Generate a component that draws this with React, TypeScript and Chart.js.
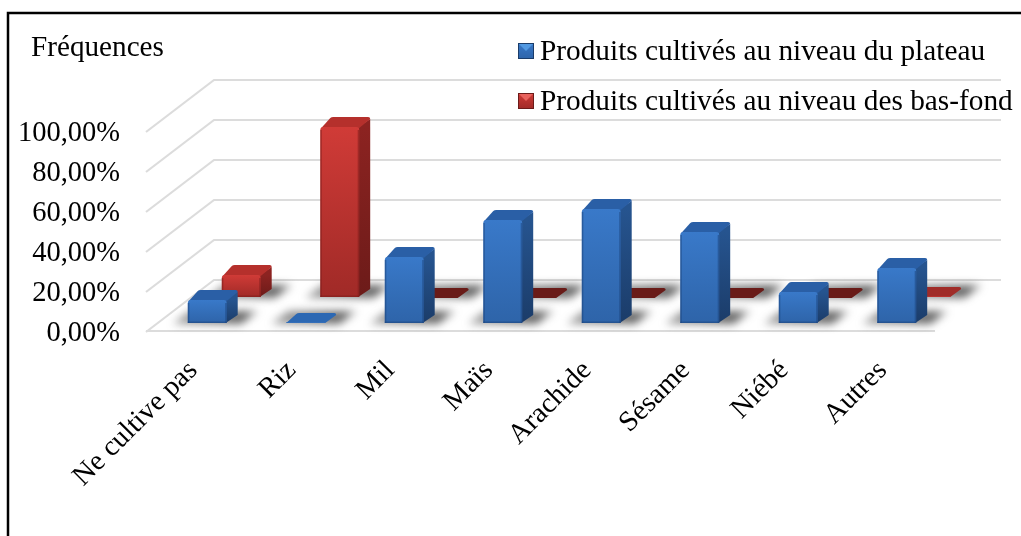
import React, { useEffect, useRef } from "react";
import { Chart, registerables } from "chart.js";

Chart.register(...registerables);

const categories = ["Ne cultive pas", "Riz", "Mil", "Maïs", "Arachide", "Sésame", "Niébé", "Autres"];
const plateauValues = [11.5, 0.5, 33, 51.5, 57, 45.5, 15.5, 27.5];
const basFondValues = [11, 85, 0, 0, 0, 0, 0, 0.5];
const plateauLabel = "Produits cultivés au niveau du plateau";
const basFondLabel = "Produits cultivés au niveau des bas-fond";
const axisTitle = "Fréquences";

const FONT = '"Liberation Serif"';
const DEPTH = { dx: 11, dy: -10 };
const WALL = { dx: 66, dy: -51 };
const ROWS = [
  { dx: 10, dy: -8, top: "#2a5fa6", sideA: "#26548f", sideB: "#1b3c69", faceA: "#3979c9", faceB: "#2e64a9", edge: "rgba(30,70,125,0.55)", flat: "#2c68b3", zero: "#2c68b3", light: "#5299e2" },
  { dx: 44, dy: -34, top: "#b5302c", sideA: "#8c2321", sideB: "#6c1b19", faceA: "#d03b37", faceB: "#a02a27", edge: "rgba(125,30,28,0.55)", flat: "#a02c28", zero: "#691b18", light: "#e8625d" },
];

const scenePlugin = {
  id: "scene",
  beforeDraw(chart: any) {
    const { ctx, width, height } = chart;
    ctx.save();
    ctx.fillStyle = "#fff";
    ctx.fillRect(0, 0, width, height);
    ctx.strokeStyle = "#000";
    ctx.lineWidth = 2.5;
    ctx.beginPath();
    ctx.moveTo(8, height);
    ctx.lineTo(8, 13);
    ctx.lineTo(width, 13);
    ctx.stroke();
    ctx.restore();
  },
  beforeDatasetsDraw(chart: any) {
    const { ctx, chartArea, scales } = chart;
    const y = scales.y;
    ctx.save();
    ctx.strokeStyle = "#dcdcdc";
    ctx.lineWidth = 2.2;
    y.ticks.forEach((t: any) => {
      const py = y.getPixelForValue(t.value);
      ctx.beginPath();
      ctx.moveTo(chartArea.left - 2, py + 1);
      ctx.lineTo(chartArea.left + WALL.dx, py + WALL.dy);
      ctx.lineTo(chartArea.right + WALL.dx - 1, py + WALL.dy);
      ctx.stroke();
    });
    const p0 = y.getPixelForValue(0);
    ctx.beginPath();
    ctx.moveTo(chartArea.left - 2, p0);
    ctx.lineTo(chartArea.right - 1, p0);
    ctx.stroke();
    ctx.restore();
  },
  beforeDatasetDraw(chart: any, args: any) {
    const { ctx } = chart;
    const row = ROWS[args.index];
    ctx.save();
    ctx.translate(row.dx, row.dy);
    args.meta.data.forEach((bar: any) => {
      const { x, y, base, width } = bar.getProps(["x", "y", "base", "width"]);
      const l = x - width / 2;
      const r = x + width / 2;
      // floor shadow
      ctx.save();
      ctx.filter = "blur(4px)";
      const sh = ctx.createLinearGradient(l - 16, 0, r + 36, 0);
      sh.addColorStop(0, "rgba(90,90,90,0.55)");
      sh.addColorStop(0.8, "rgba(70,70,70,0.85)");
      sh.addColorStop(1, "rgba(90,90,90,0.35)");
      ctx.fillStyle = sh;
      ctx.beginPath();
      ctx.moveTo(l - 15, base + 1);
      ctx.lineTo(r + 14, base + 1);
      ctx.lineTo(r + 32, base - 12);
      ctx.lineTo(l + 2, base - 12);
      ctx.closePath();
      ctx.fill();
      ctx.restore();

      const flat = base - y < 2;
      // side face
      if (!flat) {
        const g = ctx.createLinearGradient(0, y, 0, base);
        g.addColorStop(0, row.sideA);
        g.addColorStop(1, row.sideB);
        ctx.fillStyle = g;
        ctx.beginPath();
        ctx.moveTo(r - 1, y);
        ctx.lineTo(r + DEPTH.dx, y + DEPTH.dy + 2);
        ctx.lineTo(r + DEPTH.dx, base - 8);
        ctx.lineTo(r - 1, base);
        ctx.closePath();
        ctx.fill();
      }
      // top face
      ctx.fillStyle = flat ? (base - y < 0.5 ? row.zero : row.flat) : row.top;
      ctx.beginPath();
      const d = flat ? -9 : DEPTH.dy;
      ctx.moveTo(l + (flat ? 0 : 1), y + 1);
      ctx.lineTo(l + DEPTH.dx - 1, y + d + 1);
      ctx.quadraticCurveTo(l + DEPTH.dx, y + d, l + DEPTH.dx + 2, y + d);
      ctx.lineTo(r + DEPTH.dx - 2, y + d);
      ctx.quadraticCurveTo(r + DEPTH.dx, y + d, r + DEPTH.dx, y + d + 2);
      ctx.lineTo(r, y + 1);
      ctx.closePath();
      ctx.fill();
    });
  },
  afterDatasetDraw(chart: any, args: any) {
    const { ctx } = chart;
    const row = ROWS[args.index];
    // soft bevel along the vertical edges of each front face
    args.meta.data.forEach((bar: any) => {
      const { x, y, base, width } = bar.getProps(["x", "y", "base", "width"]);
      if (base - y < 2) return;
      ctx.fillStyle = row.edge;
      ctx.fillRect(x - width / 2, y + 3, 1.5, base - y - 3);
      ctx.fillRect(x + width / 2 - 1.5, y + 3, 1.5, base - y - 3);
      ctx.fillRect(x - width / 2, base - 1.5, width, 1.5);
    });
    ctx.restore();
  },
  afterDraw(chart: any) {
    const { ctx } = chart;
    ctx.save();
    ctx.fillStyle = "#000";
    ctx.textBaseline = "alphabetic";
    ctx.textAlign = "left";
    ctx.font = `29.2px ${FONT}`;
    ctx.fillText(axisTitle, 31, 55.5);
    ctx.font = `29.3px ${FONT}`;
    chart.data.datasets.forEach((ds: any, i: number) => {
      const top = i === 0 ? 43 : 93;
      const row = ROWS[i];
      ctx.fillStyle = row.sideB;
      ctx.fillRect(518, top, 16, 16);
      const g = ctx.createLinearGradient(0, top, 0, top + 16);
      g.addColorStop(0, row.faceA);
      g.addColorStop(1, row.faceB);
      ctx.fillStyle = g;
      ctx.fillRect(519, top + 1, 14, 14);
      ctx.fillStyle = row.light;
      ctx.beginPath();
      ctx.moveTo(519, top + 1);
      ctx.lineTo(533, top + 1);
      ctx.lineTo(526, top + 8);
      ctx.closePath();
      ctx.fill();
      ctx.fillStyle = "#000";
      ctx.fillText(ds.label, 540, i === 0 ? 60 : 110);
    });
    ctx.restore();
  },
};

function faceGradient(index: number) {
  return (c: any) => {
    const { chart, raw } = c;
    const row = ROWS[index];
    const y = chart.scales?.y;
    if (!y || typeof raw !== "number") return row.faceA;
    const y0 = y.getPixelForValue(raw);
    const y1 = y.getPixelForValue(0);
    if (!Number.isFinite(y0) || !Number.isFinite(y1)) return row.faceA;
    const g = chart.ctx.createLinearGradient(0, y0, 0, y1);
    g.addColorStop(0, row.faceA);
    g.addColorStop(1, row.faceB);
    return g;
  };
}

export default function App() {
  const ref = useRef<HTMLCanvasElement>(null);
  useEffect(() => {
    const chart = new Chart(ref.current!, {
      type: "bar",
      data: {
        labels: categories,
        datasets: [
          { label: plateauLabel, data: plateauValues, backgroundColor: faceGradient(0), clip: false } as any,
          { label: basFondLabel, data: basFondValues, backgroundColor: faceGradient(1), clip: false } as any,
        ],
      },
      options: {
        responsive: false,
        animation: false,
        layout: { padding: { top: 131, right: 85, left: 0, bottom: 0 } },
        datasets: {
          bar: { grouped: false, categoryPercentage: 1, barPercentage: 0.395, borderRadius: { topLeft: 3, topRight: 3 } },
        },
        plugins: { legend: { display: false }, title: { display: false }, tooltip: { enabled: false } },
        scales: {
          x: {
            border: { display: false },
            grid: { display: false },
            afterFit(s: any) {
              s.height = 205;
            },
            ticks: {
              color: "#000",
              font: { family: FONT, size: 28.5 },
              minRotation: 45,
              maxRotation: 45,
              autoSkip: false,
              padding: 15,
              labelOffset: -4,
            },
          },
          y: {
            min: 0,
            max: 100,
            border: { display: false },
            grid: { display: false, drawTicks: false },
            afterFit(s: any) {
              s.width = 148;
            },
            ticks: {
              stepSize: 20,
              color: "#000",
              padding: 28,
              labelOffset: 3,
              font: { family: FONT, size: 28.5 },
              callback: (v: any) => Number(v).toFixed(2).replace(".", ",") + "%",
            },
          },
        },
      },
      plugins: [scenePlugin],
    } as any);
    return () => chart.destroy();
  }, []);
  return (
    <div style={{ position: "fixed", left: 0, top: 0, width: 1021, height: 536 }}>
      <canvas ref={ref} width={1021} height={536} style={{ display: "block" }} />
    </div>
  );
}
